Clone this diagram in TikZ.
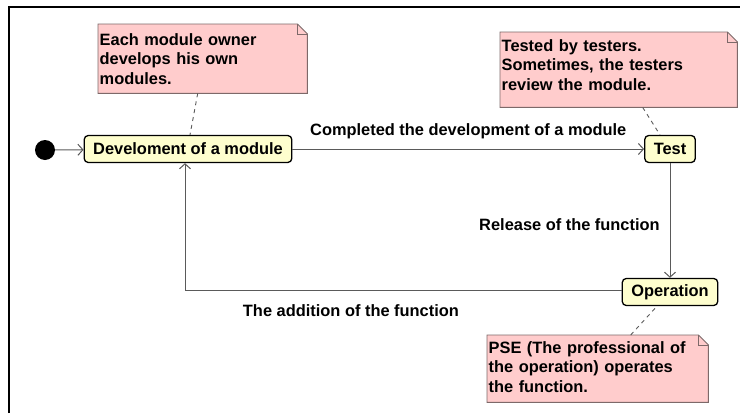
\documentclass[tikz,border=0pt]{standalone}
\usepackage{fontspec}
\setmainfont{Liberation Sans}
\usepackage{tikz}
\usetikzlibrary{arrows.meta,backgrounds,positioning}
\definecolor{stateyellow}{RGB}{254,254,206}
\definecolor{notepink}{RGB}{255,204,204}
\definecolor{noteborder}{RGB}{125,105,105}
\definecolor{edgegrey}{RGB}{90,90,90}
% paper of a note: node name, extra depth at the bottom
\newcommand{\notepaper}[2]{%
  \filldraw[fill=notepink, draw=noteborder, line width=0.9pt]
    ([yshift=-#2]#1.south west) -- (#1.north west) -- ([xshift=-10pt]#1.north east)
    -- ([yshift=-10pt]#1.north east) -- ([yshift=-#2]#1.south east) -- cycle;
  \draw[noteborder, line width=0.9pt] ([xshift=-10pt]#1.north east) |- ([yshift=-10pt]#1.north east);}

\begin{document}
\begin{tikzpicture}[x=1pt,y=1pt,
    font=\fontsize{16.4}{19.5}\selectfont\bfseries,
    state/.style={draw=black, line width=1.3pt, fill=stateyellow, rounded corners=4pt,
      minimum height=27pt, inner xsep=9pt, inner ysep=0pt},
    notetext/.style={anchor=north west, align=left, inner xsep=1.5pt},
    transition/.style={draw=edgegrey, line width=1pt, -{Straight Barb[length=5pt,width=11pt]}},
    anchorline/.style={draw=edgegrey, line width=0.9pt, dash pattern=on 4pt off 4pt}]
    % Fix the size of the picture
    \useasboundingbox (0,0) rectangle (740,-413);

    % Draw the frame
    \draw[line width=2pt] (9,-413) -- (9,-7) -- (740,-7);

    % Draw the states
    \node[circle, fill=black, minimum size=20pt, inner sep=0pt] (start) at (45,-150) {};
    \node[state] (dev) at (188,-149) {Develoment of a module};
    \node[state] (test) at (670,-149) {Test};
    \node[state] (op) at (670,-292) {Operation};

    % Draw the notes
    \node[notetext, inner ysep=9pt, text width=206pt] (devnote) at (98,-24)
      {Each module owner\\develops his own\\modules.};
    \node[notetext, inner ysep=7pt, text width=234pt] (testnote) at (500,-32)
      {Tested by testers.\\Sometimes, the testers\\review the module.};
    \node[notetext, inner ysep=6pt, text width=218pt] (opnote) at (487,-335)
      {PSE (The professional of\\the operation) operates\\the function.};
    \begin{scope}[on background layer]
      \notepaper{devnote}{0pt}
      \notepaper{testnote}{10pt}
      \notepaper{opnote}{4pt}
    \end{scope}

    % Draw the transitions
    \draw[transition] (start) -- (dev);
    \draw[transition] (dev) -- node[above=6pt] (donelabel) {Completed the development of a module} (test);
    \draw[transition] (test) -- node[left=6.5pt, pos=0.54] (releaselabel) {Release of the function} (op);
    \draw[transition] ([yshift=2pt]op.west) -| node[below=11pt, pos=0.31] (addlabel) {The addition of the function}
      ([xshift=-3pt]dev.south);

    % Attach the notes
    \draw[anchorline] ([xshift=-5pt]devnote.south) -- ([xshift=2pt]dev.north);
    \draw[anchorline] ([xshift=24pt,yshift=-10pt]testnote.south) -- ([xshift=-10pt]test.north);
    \draw[anchorline] ([xshift=33pt]opnote.north) -- ([xshift=-13pt]op.south);
\end{tikzpicture}
\end{document}
